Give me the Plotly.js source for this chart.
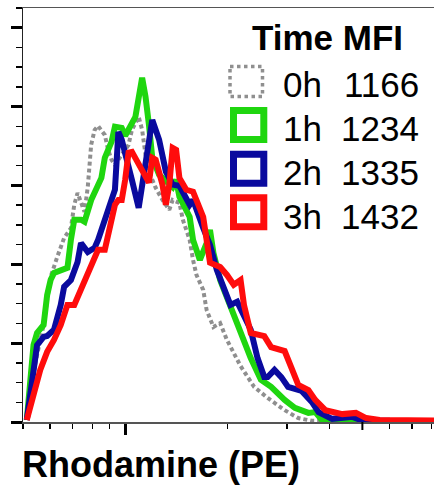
<!DOCTYPE html>
<html>
<head>
<meta charset="utf-8">
<script src="https://cdn.plot.ly/plotly-3.0.1.min.js"></script>
<style>html,body{margin:0;padding:0;background:#fff;}#chart{width:434px;height:486px;}</style>
</head>
<body>
<div id="chart"></div>
<script>
// ---- Data ----
const times = ['0h', '1h', '2h', '3h'];
const mfi = [1166, 1234, 1335, 1432];

const x0h = [513,525,550,575,589,603,631,661,692,708,724,759,776,794,813,832,871,891,912,933,977,1023,1047,1096,1122,1148,1175,1230,1288,1349,1380,1445,1479,1549,1585,1622,1698,1738,1820,1905,1995,2188,2399,2630,2951,3236,3548,3890];
const y0h = [0.5,8.1,17.0,24.6,31.0,36.8,41.9,46.7,49.2,55.1,58.1,53.3,59.6,70.3,74.1,75.1,72.8,69.0,66.5,65.2,67.8,70.3,74.1,77.4,74.1,67.8,63.5,59.4,56.3,53.8,56.3,55.6,51.3,46.2,41.1,37.3,33.5,28.4,24.1,25.1,20.8,14.2,8.9,6.1,3.0,1.0,0.3,0.3];

const x1h = [513,525,537,550,575,589,603,617,646,676,692,708,741,759,794,813,851,871,912,933,977,1000,1047,1072,1122,1148,1175,1202,1259,1318,1380,1413,1445,1549,1585,1660,1738,1778,1820,1905,1995,2089,2188,2344,2512,2692,2951,3162,3467,3631,3802,4169,4898];
const y1h = [0.5,10.7,19.5,22.6,24.6,32.2,36.0,37.8,38.3,39.1,46.2,51.3,51.3,50.8,56.3,58.4,61.9,67.0,71.1,74.9,74.6,72.6,75.9,77.4,87.3,82.5,75.4,67.0,62.7,60.9,59.6,61.4,57.1,52.0,46.2,41.1,45.4,48.7,42.9,36.0,31.5,27.2,22.6,16.2,10.7,8.9,5.6,3.6,2.3,2.5,0.5,0.3,0.3];

const x2h = [513,525,537,550,575,589,617,646,661,692,724,741,776,813,832,871,891,933,955,977,1000,1047,1096,1148,1202,1259,1318,1380,1445,1549,1585,1698,1778,1862,1950,2042,2138,2239,2344,2455,2570,2630,2754,2884,3020,3311,3548,3715,4074,4677,5012,6026];
const y2h = [0.5,6.9,13.2,19.5,21.6,21.8,23.4,29.7,34.3,36.0,40.6,45.4,43.1,44.2,46.2,50.8,53.8,58.9,73.6,71.6,68.5,61.4,54.3,64.5,76.6,71.6,63.5,60.2,59.9,55.1,56.3,49.2,44.9,38.6,34.3,29.7,30.5,27.2,23.4,16.2,11.4,11.4,13.2,11.4,8.9,7.9,5.1,2.5,0.8,1.3,0.3,0.3];

const x3h = [513,537,562,589,617,646,661,676,708,741,776,832,871,912,933,955,977,1000,1023,1047,1096,1148,1175,1202,1230,1288,1318,1349,1380,1413,1445,1514,1585,1622,1698,1778,1905,1995,2089,2188,2239,2344,2570,2692,2951,3090,3236,3467,3631,3890,4365,4786,5129,5623,6457,8400];
const y3h = [0.5,6.9,13.2,17.8,20.8,24.6,27.7,29.7,29.7,33.5,37.3,43.7,43.7,50.8,55.1,56.3,56.3,61.4,68.3,68.5,65.2,61.9,60.7,67.0,66.5,60.2,55.1,60.2,69.5,69.0,61.9,58.9,58.4,56.3,52.0,40.4,39.3,37.3,34.8,36.0,29.7,22.6,21.8,19.0,18.0,13.7,9.4,8.1,5.6,3.0,2.0,2.3,1.0,0.5,0.4,0.4];

const xMajorTicks = [1000];
const xMinorTicks = [500,600,700,800,900,2000,3000,4000,6000,7000,8000];
const xMidTick = 5000;
const yMajorTicks = [0,20,40,60,80,100];

// ---- Layout / style ----
const W = 434, H = 486, ML = 23, MR = 0, MT = 8, MB = 64;
const PW = W - ML - MR, PH = H - MT - MB;
const px = v => (v - ML) / PW;
const py = v => (H - MB - v) / PH;
const FONT = 'Liberation Sans, Arial, Helvetica, sans-serif';
const xr = [Math.log10(500), 3.91];

const colors = ['#8f8f8f', '#1fd60f', '#0a0a9e', '#ff0c0c'];
const xs = [x0h, x1h, x2h, x3h];
const ys = [y0h, y1h, y2h, y3h];

const traces = xs.map((x, i) => ({
  x: x, y: ys[i], type: 'scatter', mode: 'lines',
  line: i === 0 ? {color: colors[0], width: 4, dash: '4px,3px'} : {color: colors[i], width: 6},
  hoverinfo: 'skip', showlegend: false
}));

const annotations = [];
const shapes = [];

// x-axis title, left aligned with the plot
annotations.push({
  xref: 'paper', yref: 'paper', x: px(20), y: py(464), xanchor: 'left', yanchor: 'middle',
  text: '<b>Rhodamine (PE)</b>', showarrow: false, font: {family: FONT, size: 36, color: '#000'}
});
// legend header
annotations.push({
  xref: 'paper', yref: 'paper', x: px(250), y: py(37.5), xanchor: 'left', yanchor: 'middle',
  text: '<b>Time MFI</b>', showarrow: false, font: {family: FONT, size: 35, color: '#000'}
});
const rowText0 = 84.1, rowStep = 44.2, box0 = 81.5, boxStep = 43.6;
times.forEach((t, i) => {
  const yc = rowText0 + i * rowStep;
  annotations.push({
    xref: 'paper', yref: 'paper', x: px(281), y: py(yc), xanchor: 'left', yanchor: 'middle',
    text: t, showarrow: false, font: {family: FONT, size: 35, color: '#000'}
  });
  annotations.push({
    xref: 'paper', yref: 'paper', x: px(421), y: py(yc), xanchor: 'right', yanchor: 'middle',
    text: String(mfi[i]), showarrow: false, font: {family: FONT, size: 35, color: '#000'}
  });
  const bc = box0 + i * boxStep;
  const gray = i === 0;
  shapes.push({
    type: 'rect', xref: 'paper', yref: 'paper',
    x0: px(gray ? 230 : 233.5), x1: px(gray ? 262.5 : 263.8),
    y0: py(bc - (gray ? 15 : 14.5)), y1: py(bc + (gray ? 15 : 14.5)),
    line: gray ? {color: colors[0], width: 3.5, dash: 'dot'} : {color: colors[i], width: 7},
    fillcolor: 'rgba(0,0,0,0)'
  });
});
// medium tick at 5000
shapes.push({
  type: 'line', xref: 'paper', yref: 'paper',
  x0: (Math.log10(xMidTick) - xr[0]) / (xr[1] - xr[0]), x1: (Math.log10(xMidTick) - xr[0]) / (xr[1] - xr[0]),
  y0: 0, y1: -8 / PH, line: {color: '#000', width: 2}
});

const layout = {
  width: W, height: H,
  margin: {l: ML, r: MR, t: MT, b: MB, pad: 0},
  paper_bgcolor: '#fff', plot_bgcolor: '#fff',
  showlegend: false,
  font: {family: FONT},
  xaxis: {
    type: 'log', range: xr, showgrid: false, zeroline: false,
    showline: true, linecolor: '#555', linewidth: 1.5, mirror: true,
    ticks: 'outside', tickmode: 'array', tickvals: xMajorTicks, ticklen: 11, tickwidth: 3, tickcolor: '#000',
    showticklabels: false,
    minor: {ticks: 'outside', tickmode: 'array', tickvals: xMinorTicks, ticklen: 5, tickwidth: 1.5, tickcolor: '#000', showgrid: false}
  },
  yaxis: {
    range: [0, 105], showgrid: false, zeroline: false,
    showline: true, linecolor: '#222', linewidth: 1.5,
    ticks: 'outside', tickmode: 'array', tickvals: yMajorTicks, ticklen: 11, tickwidth: 3, tickcolor: '#000',
    showticklabels: false,
    minor: {ticks: 'outside', dtick: 5, tick0: 0, ticklen: 6, tickwidth: 1.5, tickcolor: '#000', showgrid: false}
  },
  annotations: annotations,
  shapes: shapes
};

Plotly.newPlot('chart', traces, layout, {displayModeBar: false, staticPlot: true});
</script>
</body>
</html>
